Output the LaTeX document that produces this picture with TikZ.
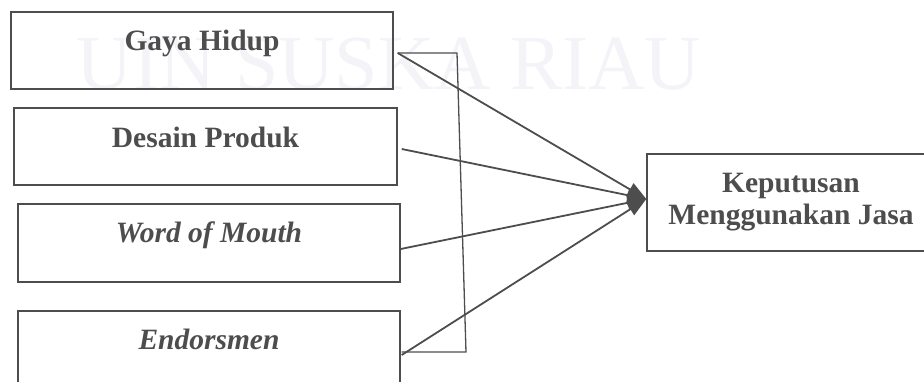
\documentclass[tikz,border=0pt]{standalone}
\usepackage{fontspec}
\setmainfont{Liberation Serif}
\usetikzlibrary{arrows.meta}
\definecolor{ink}{HTML}{4D4D4D}
\definecolor{wm}{HTML}{F3F3F8}
\tikzset{
  box/.style={draw=ink, line width=1.4pt, rectangle, inner sep=0pt},
  lbl/.style={text=ink, font=\fontsize{29.5}{32}\selectfont\bfseries, anchor=base, inner sep=0pt},
  ilbl/.style={lbl, font=\fontsize{29.5}{32}\selectfont\bfseries\itshape},
  conn/.style={draw=ink, line width=1.8pt, -{Triangle[length=19pt,width=14pt]}},
  brk/.style={draw=ink, line width=1.3pt}
}
\begin{document}
\begin{tikzpicture}[x=1pt,y=-1pt]
\useasboundingbox (0,0) rectangle (924,382);
\clip (0,0) rectangle (924,382);
% watermark
\node[text=wm, font=\fontsize{78}{78}\selectfont, anchor=base, inner sep=0pt] (wmk) at (389,90) {UIN SUSKA RIAU};
% boxes
\node[box, minimum width=382pt, minimum height=77pt] (gh) at (202,50.5) {};
\node[box, minimum width=383pt, minimum height=77pt] (dp) at (205.5,146.5) {};
\node[box, minimum width=382pt, minimum height=78pt] (wom) at (209,243) {};
\node[box, minimum width=382pt, minimum height=90pt] (en) at (209,356) {};
\node[box, minimum width=300pt, minimum height=97pt] (kep) at (797,202.5) {};
% labels
\node[lbl] (tgh) at (202,51) {Gaya Hidup};
\node[lbl] (tdp) at (205.5,148) {Desain Produk};
\node[ilbl] (twom) at (209,243) {Word of Mouth};
\node[ilbl] (ten) at (209,349) {Endorsmen};
\node[lbl, align=center] (tkep) at (791,225) {Keputusan\\Menggunakan Jasa};
% bracket
\coordinate (c1) at (457,53);
\coordinate (c2) at (466,352);
\draw[brk] ([xshift=4pt,yshift=-2.5pt]gh.east) -- (c1) -- (c2) -- ([xshift=1pt,yshift=4pt]en.east);
% arrows
\draw[conn] ([xshift=4pt,yshift=-2.5pt]gh.east) -- ([yshift=3.5pt]kep.west);
\draw[conn] ([xshift=4pt,yshift=-2.5pt]dp.east) -- ([yshift=3.5pt]kep.west);
\draw[conn] ([xshift=0pt,yshift=-6pt]wom.east) -- ([yshift=3.5pt]kep.west);
\draw[conn] ([xshift=1pt,yshift=1pt]en.east) -- ([yshift=3.5pt]kep.west);
\end{tikzpicture}
\end{document}
